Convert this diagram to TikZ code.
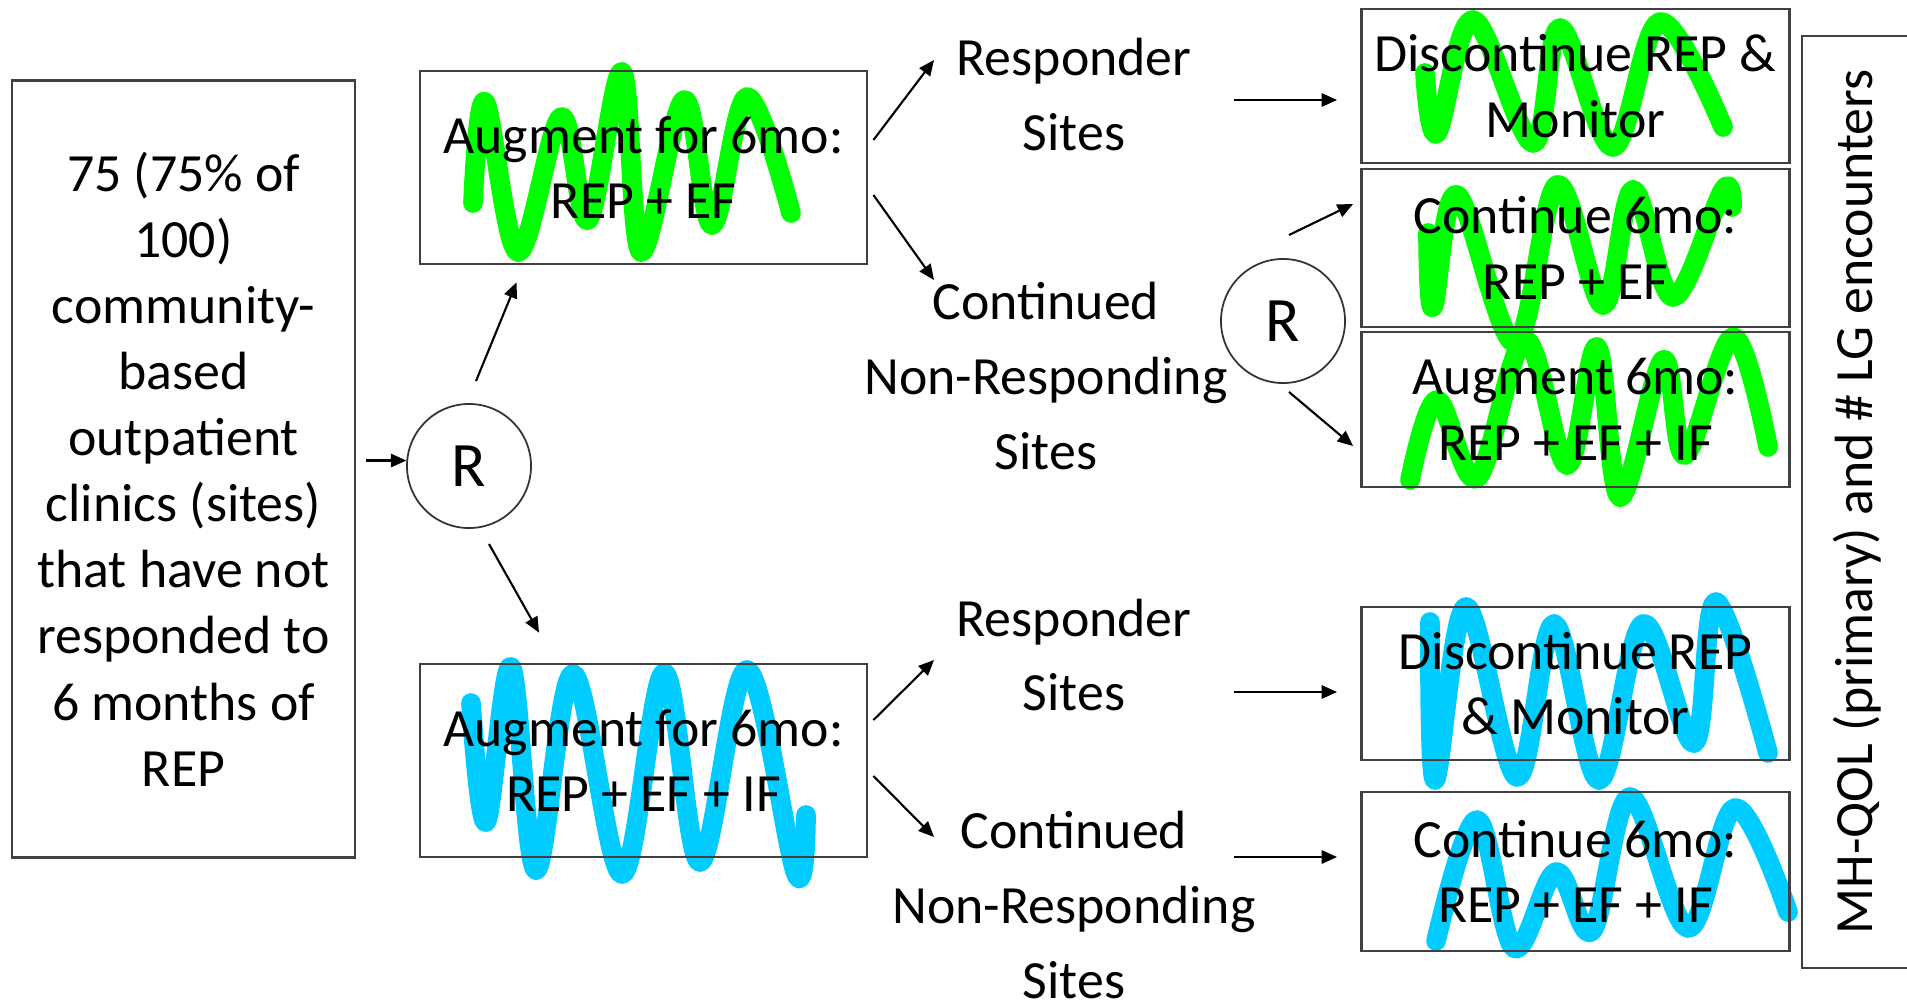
\documentclass[tikz,border=0pt]{standalone}
\usepackage{fontspec}
\setmainfont{Carlito}
\usetikzlibrary{arrows.meta}
\definecolor{markgreen}{RGB}{0,255,0}
\definecolor{markcyan}{RGB}{0,204,255}
\newcommand\startfont{\fontsize{15.3pt}{18.8pt}\selectfont}
\newcommand\boxfont{\fontsize{15.3pt}{18.6pt}\selectfont}
\newcommand\lblfont{\fontsize{15.3pt}{21.2pt}\selectfont}
\newcommand\rfont{\fontsize{18pt}{20pt}\selectfont}
\begin{document}
\begin{tikzpicture}[x=0.01cm, y=-0.01cm,
  frame/.style={draw=black!75, line width=0.75pt, align=center, inner sep=0pt},
  startbox/.style={frame, minimum width=3.43cm, minimum height=7.76cm, font=\startfont},
  augbox/.style={frame, minimum width=4.47cm, minimum height=1.93cm, font=\boxfont},
  armbox/.style={frame, minimum width=4.28cm, font=\boxfont},
  lbl/.style={align=center, inner sep=0pt, font=\lblfont},
  rand/.style={circle, draw=black!80, line width=0.5pt, minimum size=1.24cm, inner sep=0pt, font=\rfont},
  arr/.style={draw=black, line width=0.6pt, -{Triangle[length=4.4pt, width=3.8pt]}},
  scrib/.style={line width=5.6pt, line cap=round, line join=round}]
\useasboundingbox (0,0) rectangle (1907,1006);

% hand-drawn highlight strokes (under the boxes and their text)
\draw[scrib, markgreen] plot[smooth, tension=0.6] coordinates {
  (473,203) (485,102) (518,252) (561,117) (588,220) (622,72) (641,252)
  (684,100) (712,225) (747,97) (791,213)};
\draw[scrib, markcyan] plot[smooth, tension=0.6] coordinates {
  (471,703) (486,822) (511,667) (536,870) (573,674) (622,874) (664,673)
  (700,862) (747,670) (796,874) (806,815)};
\draw[scrib, markgreen] plot[smooth, tension=0.6] coordinates {
  (1425,73) (1437,133) (1473,20) (1533,143) (1560,28) (1613,147)
  (1660,22) (1723,127)};
\draw[scrib, markgreen] plot[smooth, tension=0.6] coordinates {
  (1428,233) (1433,307) (1457,195) (1515,343) (1557,185) (1603,305)
  (1633,190) (1673,297) (1723,190) (1732,207)};
\draw[scrib, markgreen] plot[smooth, tension=0.6] coordinates {
  (1410,480) (1437,400) (1477,478) (1525,340) (1567,465) (1597,347)
  (1620,497) (1663,360) (1685,455) (1733,337) (1768,447)};
\draw[scrib, markcyan] plot[smooth, tension=0.6] coordinates {
  (1430,622) (1435,780) (1466,607) (1517,777) (1554,624) (1599,780)
  (1643,624) (1694,743) (1716,602) (1768,753)};
\draw[scrib, markcyan] plot[smooth, tension=0.6] coordinates {
  (1436,941) (1477,820) (1514,948) (1556,872) (1592,931) (1630,797)
  (1688,928) (1735,808) (1788,912)};

% starting population
\node[startbox] (start) at (183.5,469) {75 (75\% of\\100)\\community-\\based\\outpatient\\clinics (sites)\\that have not\\responded to\\6 months of\\REP};

% first randomisation and its two arms
\node[rand] (r1) at (469,466) {R};
\node[augbox] (aug1) at (643.5,167.5) {Augment for 6mo:\\REP + EF};
\node[augbox] (aug2) at (643.5,760.5) {Augment for 6mo:\\REP + EF + IF};

% response groups
\node[lbl] (resp1) at (1074,94.5) {Responder\\Sites};
\node[lbl] (cont1) at (1046,376) {Continued\\Non-Responding\\Sites};
\node[lbl] (resp2) at (1074,655) {Responder\\Sites};
\node[lbl] (cont2) at (1074,905) {Continued\\Non-Responding\\Sites};

% second randomisation
\node[rand] (r2) at (1283,321) {R};

% second-stage arms
\node[armbox, minimum height=1.54cm] (disc1) at (1575.5,86) {Discontinue REP \&\\Monitor};
\node[armbox, minimum height=1.58cm] (cont6a) at (1575.5,248) {Continue 6mo:\\REP + EF};
\node[armbox, minimum height=1.55cm] (augm6) at (1575.5,409.5) {Augment 6mo:\\REP + EF + IF};
\node[armbox, minimum height=1.53cm] (disc2) at (1575.5,683.5) {Discontinue REP\\\& Monitor};
\node[armbox, minimum height=1.59cm] (cont6b) at (1575.5,871.5) {Continue 6mo:\\REP + EF + IF};

% outcome bracket
\coordinate (brtop) at (1907,36);
\coordinate (brbot) at (1907,968);
\draw[draw=black!75, line width=0.75pt] (brtop) -- (1802,36) -- (1802,968) -- (brbot);
\node[rotate=90, inner sep=0pt, font=\boxfont] (outcome) at (1857,502) {MH-QOL (primary) and \# LG encounters};

% connectors
\draw[arr, shorten <=0.1cm] (start.east |- r1.175) -- (r1.175);
\draw[arr] ([shift={(7,-85)}]r1.center) -- ([shift={(-127,17)}]aug1.south);
\draw[arr] ([shift={(20,78)}]r1.center) -- ([shift={(-104.5,-30)}]aug2.north);
\draw[arr] ([shift={(5,-27.5)}]aug1.east) -- ([shift={(-140,-34.5)}]resp1.center);
\draw[arr] ([shift={(5,27.5)}]aug1.east) -- ([shift={(-112,-96)}]cont1.center);
\draw[arr] ([shift={(160,5.5)}]resp1.center) -- ([shift={(-23,14)}]disc1.west);
\draw[arr] ([shift={(6,-86)}]r2.center) -- ([shift={(-7,-44)}]cont6a.west);
\draw[arr] ([shift={(6,71)}]r2.center) -- ([shift={(-7,36.5)}]augm6.west);
\draw[arr] ([shift={(5,-40.5)}]aug2.east) -- ([shift={(-140,5)}]resp2.center);
\draw[arr] ([shift={(5,15.5)}]aug2.east) -- ([shift={(-140,-68)}]cont2.center);
\draw[arr] ([shift={(160,37)}]resp2.center) -- ([shift={(-23,8.5)}]disc2.west);
\draw[arr] ([shift={(160,-48)}]cont2.center) -- ([shift={(-23,-14.5)}]cont6b.west);
\end{tikzpicture}
\end{document}
